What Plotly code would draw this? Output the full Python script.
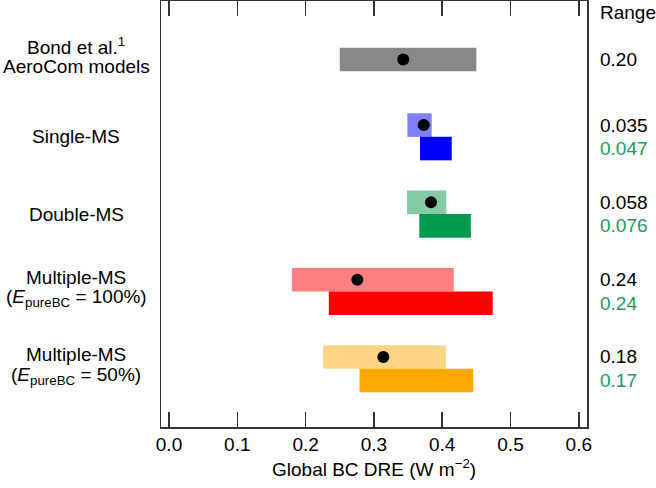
import plotly.graph_objects as go

categories = [
    "Bond et al.<sup>1</sup><br>AeroCom models",
    "Single-MS",
    "Double-MS",
    "Multiple-MS<br>(<i>E</i><sub>pureBC</sub> = 100%)",
    "Multiple-MS<br>(<i>E</i><sub>pureBC</sub> = 50%)",
]
light_low = [0.250, 0.349, 0.3485, 0.180, 0.2255]
light_high = [0.450, 0.3846, 0.406, 0.417, 0.4055]
dark_low = [None, 0.3675, 0.3665, 0.234, 0.279]
dark_high = [None, 0.414, 0.442, 0.474, 0.4455]
dots = [0.343, 0.373, 0.3836, 0.2757, 0.3138]
range_black = ["0.20", "0.035", "0.058", "0.24", "0.18"]
range_green = [None, "0.047", "0.076", "0.24", "0.17"]
light_colors = ["#888888", "#8080ff", "#85cba6", "#ff8080", "#ffd585"]
dark_colors = [None, "#0000ff", "#009a4e", "#ff0000", "#ffa800"]
x_title = "Global BC DRE (W m<sup>−2</sup>)"

OFF = 0.152
THICK = 0.305
FONT = "Liberation Sans, Arial, Helvetica, sans-serif"
FS = 19
GREEN = "#22995a"
LINE_GAP = 0.136  # half line spacing in y units

fig = go.Figure()

ly = [0 if i == 0 else i - OFF for i in range(len(categories))]
dy = [i + OFF for i in range(len(categories))]

fig.add_trace(go.Bar(
    orientation="h",
    y=ly,
    base=light_low,
    x=[h - l for l, h in zip(light_low, light_high)],
    width=THICK,
    marker=dict(color=light_colors, line=dict(width=0)),
    showlegend=False, hoverinfo="skip",
))
idx = [i for i in range(len(categories)) if dark_low[i] is not None]
fig.add_trace(go.Bar(
    orientation="h",
    y=[dy[i] for i in idx],
    base=[dark_low[i] for i in idx],
    x=[dark_high[i] - dark_low[i] for i in idx],
    width=THICK,
    marker=dict(color=[dark_colors[i] for i in idx], line=dict(width=0)),
    showlegend=False, hoverinfo="skip",
))
fig.add_trace(go.Scatter(
    x=dots, y=ly, mode="markers",
    marker=dict(color="black", size=12, line=dict(width=0)),
    showlegend=False, hoverinfo="skip",
))

# left category labels, one annotation per line for tight line spacing
for i, c in enumerate(categories):
    lines = c.split("<br>")
    n = len(lines)
    shift = -0.045 if n > 1 else 0.0
    for k, ln in enumerate(lines):
        yy = i + shift + (k - (n - 1) / 2) * 2 * LINE_GAP
        fig.add_annotation(
            text=ln, xref="paper", yref="y", x=-0.1995, y=yy,
            xanchor="center", yanchor="middle", align="center",
            showarrow=False, font=dict(size=FS, color="black", family=FONT),
        )

# right range labels
XR = 1.026
fig.add_annotation(text="Range", xref="paper", yref="y", x=XR, y=-0.61,
                   xanchor="left", yanchor="middle", showarrow=False,
                   font=dict(size=FS, color="black", family=FONT))
for i in range(len(categories)):
    fig.add_annotation(text=range_black[i], xref="paper", yref="y", x=XR, y=ly[i],
                       xanchor="left", yanchor="middle", showarrow=False,
                       font=dict(size=FS, color="black", family=FONT))
    if range_green[i] is not None:
        fig.add_annotation(text=range_green[i], xref="paper", yref="y", x=XR, y=dy[i],
                           xanchor="left", yanchor="middle", showarrow=False,
                           font=dict(size=FS, color=GREEN, family=FONT))

# x axis title
fig.add_annotation(text=x_title, xref="paper", yref="paper", x=0.5, y=-0.097,
                   xanchor="center", yanchor="middle", showarrow=False,
                   font=dict(size=FS, color="black", family=FONT))

fig.update_layout(
    template="none",
    width=656, height=488,
    margin=dict(l=161, r=69, t=1, b=61, autoexpand=False),
    paper_bgcolor="white", plot_bgcolor="white",
    font=dict(family=FONT, size=FS, color="black"),
    barmode="overlay",
    xaxis=dict(
        range=[-0.0117, 0.612],
        tickvals=[0, 0.1, 0.2, 0.3, 0.4, 0.5, 0.6],
        ticktext=["0.0", "0.1", "0.2", "0.3", "0.4", "0.5", "0.6"],
        ticks="inside", ticklen=15, tickwidth=1.5, tickcolor="#333333",
        showline=True, linecolor="#333333", linewidth=1.5, mirror="ticks",
        showgrid=False, zeroline=False, automargin=False,
        tickfont=dict(size=FS, family=FONT),
    ),
    yaxis=dict(
        range=[4.754, -0.757],
        showticklabels=False, ticks="",
        showline=True, linecolor="#333333", linewidth=1.5, mirror=True,
        showgrid=False, zeroline=False, automargin=False,
    ),
)

fig.write_html(
    "out.html",
    config={"displayModeBar": False, "staticPlot": True},
    post_script="document.body.style.margin='0';document.body.style.overflow='hidden';",
)
